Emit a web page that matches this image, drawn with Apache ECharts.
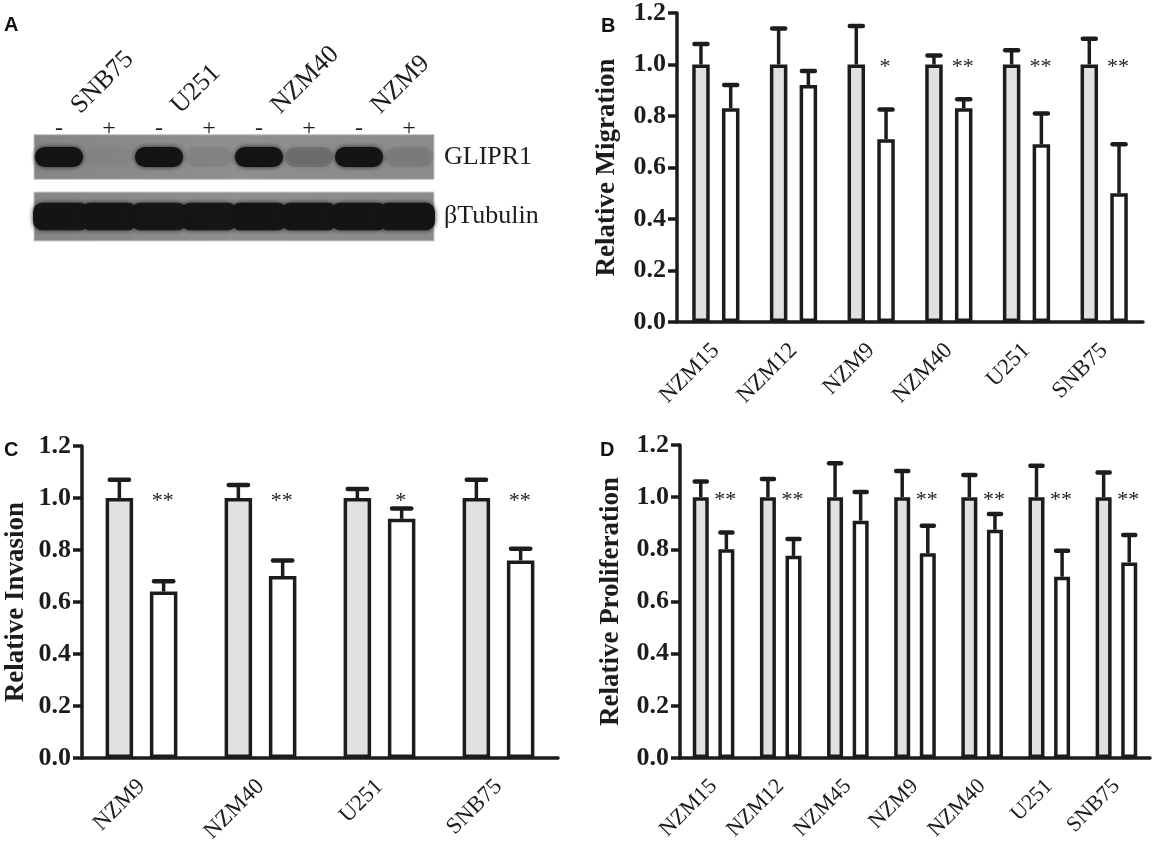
<!DOCTYPE html>
<html>
<head>
<meta charset="utf-8">
<title>GLIPR1 migration, invasion and proliferation</title>
<script src="https://cdn.jsdelivr.net/npm/echarts@6/dist/echarts.min.js"></script>
<style>
    html, body { margin: 0; padding: 0; background: #fff; }
    #main { width: 1158px; height: 853px; }
</style>
</head>
<body>
<div id="main"></div>
<script>
// ---- panel A: western blot (band intensity per lane, 0..1)
var blotLanes = ['-', '+', '-', '+', '-', '+', '-', '+'];
var blotCells = ['SNB75', 'U251', 'NZM40', 'NZM9'];
var blotRows = ['GLIPR1', 'βTubulin'];
var glipr1Band = [1, 0.02, 1, 0.05, 1, 0.16, 1, 0.08];
var tubulinBand = [0.95, 1, 0.95, 0.95, 1, 1, 1, 1];

// ---- panel B: relative migration
var migCells = ['NZM15', 'NZM12', 'NZM9', 'NZM40', 'U251', 'SNB75'];
var migCtrl = [1, 1, 1, 1, 1, 1];
var migCtrlErr = [0.08, 0.14, 0.15, 0.035, 0.055, 0.10];
var migGlipr = [0.83, 0.92, 0.71, 0.83, 0.69, 0.50];
var migGliprErr = [0.09, 0.055, 0.115, 0.035, 0.12, 0.19];
var migSig = ['', '', '*', '**', '**', '**'];

// ---- panel C: relative invasion
var invCells = ['NZM9', 'NZM40', 'U251', 'SNB75'];
var invCtrl = [1, 1, 1, 1];
var invCtrlErr = [0.07, 0.05, 0.035, 0.07];
var invGlipr = [0.64, 0.70, 0.92, 0.76];
var invGliprErr = [0.04, 0.06, 0.04, 0.045];
var invSig = ['**', '**', '*', '**'];

// ---- panel D: relative proliferation
var proCells = ['NZM15', 'NZM12', 'NZM45', 'NZM9', 'NZM40', 'U251', 'SNB75'];
var proCtrl = [1, 1, 1, 1, 1, 1, 1];
var proCtrlErr = [0.06, 0.07, 0.13, 0.10, 0.085, 0.12, 0.095];
var proGlipr = [0.80, 0.775, 0.91, 0.785, 0.875, 0.695, 0.75];
var proGliprErr = [0.065, 0.065, 0.11, 0.105, 0.06, 0.10, 0.105];
var proSig = ['**', '**', '', '**', '**', '**', '**'];

var yTicks = { min: 0, max: 1.2, interval: 0.2 };
var starLevel = 1.0;

var ink = '#1c1c1c';
var serif = '"Liberation Serif", "Times New Roman", serif';
var sans = '"Liberation Sans", Arial, sans-serif';

var chart = echarts.init(document.getElementById('main'));

function valueAxis(grid, name, gap) {
    return {
        type: 'value', gridIndex: grid,
        min: yTicks.min, max: yTicks.max, interval: yTicks.interval,
        name: name, nameLocation: 'middle', nameGap: gap,
        nameTextStyle: { fontFamily: serif, fontSize: 27, fontWeight: 'bold', color: ink },
        axisLine: { show: true, lineStyle: { color: ink, width: 3.5 } },
        axisTick: { show: true, length: 9, lineStyle: { color: ink, width: 3.5 } },
        axisLabel: {
            margin: 11, fontFamily: serif, fontSize: 26, fontWeight: 'bold', color: ink,
            formatter: function (v) { return v.toFixed(1); }
        },
        splitLine: { show: false }
    };
}

function catAxis(grid, cats, size) {
    return {
        type: 'category', gridIndex: grid, data: cats,
        axisLine: { lineStyle: { color: ink, width: 3.5 } },
        axisTick: { alignWithLabel: true, length: 10, lineStyle: { color: ink, width: 3.5 } },
        axisLabel: { rotate: 45, margin: 25, fontFamily: serif, fontSize: size, color: ink, interval: 0 }
    };
}

// error bar (upper only) drawn at a bar's offset from the category centre
function errRender(off, capW) {
    return function (params, api) {
        var p = api.coord([api.value(0), api.value(1)]);
        var q = api.coord([api.value(0), api.value(1) + api.value(2)]);
        var x = p[0] + off;
        return {
            type: 'group',
            children: [
                { type: 'line', shape: { x1: x, y1: p[1], x2: x, y2: q[1] },
                  style: { stroke: ink, lineWidth: 3.5 } },
                { type: 'line', shape: { x1: x - capW / 2, y1: q[1], x2: x + capW / 2, y2: q[1] },
                  style: { stroke: ink, lineWidth: 4.5, lineCap: 'round' } }
            ]
        };
    };
}

function panelSeries(ax, cats, ctrl, ctrlErr, glipr, gliprErr, sig, barW, gapFrac) {
    var off = barW * (1 + gapFrac) / 2;
    var capW = (barW + 3.5) * 0.62;
    var base = { xAxisIndex: ax, yAxisIndex: ax, silent: true };
    var list = [];
    list.push(Object.assign({}, base, {
        type: 'bar', name: 'control', data: ctrl, barWidth: barW, barGap: (gapFrac * 100) + '%',
        itemStyle: { color: '#e1e1e1', borderColor: ink, borderWidth: 3.5 }
    }));
    list.push(Object.assign({}, base, {
        type: 'bar', name: 'GLIPR1', data: glipr, barWidth: barW, barGap: (gapFrac * 100) + '%',
        itemStyle: { color: '#ffffff', borderColor: ink, borderWidth: 3.5 }
    }));
    list.push(Object.assign({}, base, {
        type: 'custom', z: 5, renderItem: errRender(-off, capW),
        encode: { x: 0, y: 1 },
        data: cats.map(function (c, i) { return [i, ctrl[i], ctrlErr[i]]; })
    }));
    list.push(Object.assign({}, base, {
        type: 'custom', z: 5, renderItem: errRender(off, capW),
        encode: { x: 0, y: 1 },
        data: cats.map(function (c, i) { return [i, glipr[i], gliprErr[i]]; })
    }));
    list.push(Object.assign({}, base, {
        type: 'custom', z: 6,
        encode: { x: 0, y: 1 },
        data: cats.map(function (c, i) { return [i, starLevel]; }),
        renderItem: function (params, api) {
            var p = api.coord([api.value(0), api.value(1)]);
            return {
                type: 'text', x: p[0] + off - 1, y: p[1] + 3,
                style: { text: sig[params.dataIndex], font: '22px ' + serif, fill: ink,
                         align: 'center', verticalAlign: 'middle' }
            };
        }
    }));
    return list;
}

// blot: membrane strips and bands
var membrane = {
    type: 'custom', xAxisIndex: 0, yAxisIndex: 0, silent: true, z: 1,
    encode: { x: 0, y: 1 },
    data: blotRows.map(function (r, i) { return [0, i]; }),
    renderItem: function (params, api) {
        var cs = params.coordSys;
        var c = api.coord([0, api.value(1)]);
        var h = api.size([0, 1])[1] * (api.value(1) === 0 ? 0.75 : 0.82);
        return {
            type: 'rect',
            shape: { x: cs.x, y: c[1] - h / 2, width: cs.width, height: h },
            style: {
                fill: new echarts.graphic.LinearGradient(0, 0, 1, 0, [
                    { offset: 0, color: '#868686' }, { offset: 0.5, color: '#8f8f8f' }, { offset: 1, color: '#8b8b8b' }
                ]),
                stroke: '#c4c4c4', lineWidth: 1
            }
        };
    }
};

var bandData = [];
glipr1Band.forEach(function (k, i) { bandData.push([i, 0, k]); });
tubulinBand.forEach(function (k, i) { bandData.push([i, 1, k]); });

var bands = {
    type: 'custom', xAxisIndex: 0, yAxisIndex: 0, silent: true, z: 2,
    encode: { x: 0, y: 1 },
    data: bandData,
    renderItem: function (params, api) {
        var row = api.value(1);
        var c = api.coord([api.value(0), row]);
        var w = api.size([1, 0])[0];
        var h = api.size([0, 1])[1];
        var bh = row === 0 ? h * 0.34 : h * 0.46;
        var bw = row === 0 ? w * 0.96 : w * 1.12;
        var lane = api.value(0);
        if (row === 1 && lane === 0) { c[0] += w * 0.04; }
        if (row === 1 && lane === blotLanes.length - 1) { c[0] -= w * 0.04; }
        return {
            type: 'rect',
            shape: { x: c[0] - bw / 2, y: c[1] - bh / 2, width: bw, height: bh, r: row === 0 ? bh / 2 : bh / 3 },
            style: { fill: '#141414', opacity: api.value(2), shadowBlur: 5, shadowColor: 'rgba(20,20,20,0.9)' }
        };
    }
};

var series = [membrane, bands]
    .concat(panelSeries(1, migCells, migCtrl, migCtrlErr, migGlipr, migGliprErr, migSig, 17.5, 0.7))
    .concat(panelSeries(2, invCells, invCtrl, invCtrlErr, invGlipr, invGliprErr, invSig, 27.5, 0.61))
    .concat(panelSeries(3, proCells, proCtrl, proCtrlErr, proGlipr, proGliprErr, proSig, 16, 0.6));

var option = {
    backgroundColor: '#ffffff',
    animation: false,
    title: [
        { text: 'A', left: 4, top: 15 },
        { text: 'B', left: 601, top: 16 },
        { text: 'C', left: 4, top: 440 },
        { text: 'D', left: 600, top: 440 }
    ].map(function (t) {
        t.textStyle = { fontFamily: sans, fontSize: 20, fontWeight: 'bold', color: '#111' };
        t.padding = 0;
        return t;
    }),
    grid: [
        { left: 34, width: 400, top: 127.25, height: 119 },
        { left: 677, right: 15, top: 12, height: 310 },
        { left: 82, width: 476, top: 446, height: 312 },
        { left: 680, right: 8, top: 445, height: 313 }
    ],
    xAxis: [
        {
            type: 'category', gridIndex: 0, data: blotLanes, position: 'top',
            axisLine: { show: false }, axisTick: { show: false },
            axisLabel: { margin: -13, fontFamily: serif, fontSize: 24, color: ink, interval: 0 }
        },
        catAxis(1, migCells, 23),
        catAxis(2, invCells, 23),
        catAxis(3, proCells, 22),
        {
            type: 'category', gridIndex: 0, data: blotCells, position: 'top',
            axisLine: { show: false }, axisTick: { show: false },
            axisLabel: { rotate: -45, margin: 26, fontFamily: serif, fontSize: 26, color: ink, interval: 0,
                         padding: [0, 0, 0, -12] }
        }
    ],
    yAxis: [
        {
            type: 'category', gridIndex: 0, data: blotRows, inverse: true, position: 'right',
            axisLine: { show: false }, axisTick: { show: false },
            axisLabel: { margin: 10, fontFamily: serif, fontSize: 26, color: ink }
        },
        valueAxis(1, 'Relative Migration', 56),
        valueAxis(2, 'Relative Invasion', 52),
        valueAxis(3, 'Relative Proliferation', 55)
    ],
    series: series
};

chart.setOption(option);
</script>
</body>
</html>
